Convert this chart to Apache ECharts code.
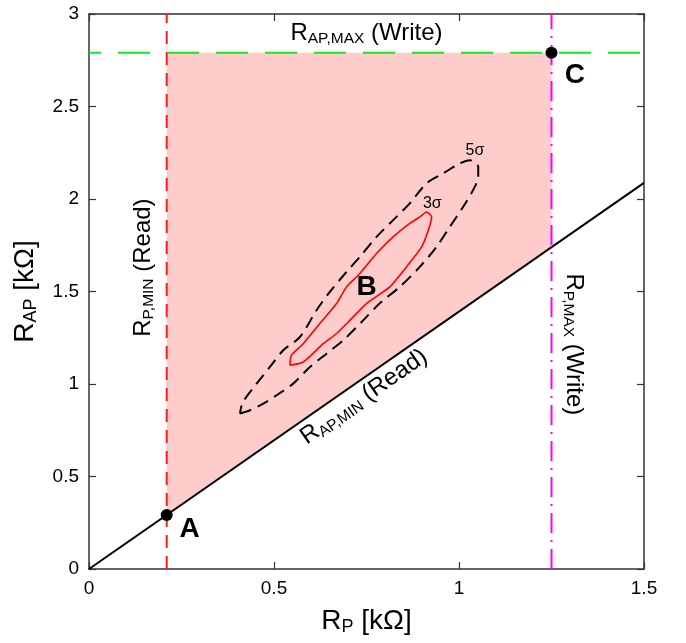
<!DOCTYPE html>
<html>
<head>
<meta charset="utf-8">
<script src="https://cdn.jsdelivr.net/npm/echarts@6/dist/echarts.min.js"></script>
<style>
  html, body { margin: 0; padding: 0; background: #ffffff; }
  #chart { width: 686px; height: 643px; }
</style>
</head>
<body>
<div id="chart"></div>
<script>
// ---- data (kΩ) ----
const xTicks = [0, 0.5, 1, 1.5];
const yTicks = [0, 0.5, 1, 1.5, 2, 2.5, 3];

const rpMinRead = 0.21;     // R_P,MIN (Read)
const rpMaxWrite = 1.25;    // R_P,MAX (Write)
const rapMaxWrite = 2.79;   // R_AP,MAX (Write)
const rapMinRead = [[0, 0], [1.5, 2.087]];   // R_AP,MIN (Read) boundary

// operating window between the four limits
const windowCorners = [[0.21, 0.292], [0.21, 2.79], [1.25, 2.79], [1.25, 1.739]];

const pointA = [0.21, 0.292];
const pointC = [1.25, 2.79];

// 5σ distribution contour
const contour5 = [
  [0.408, 0.840], [0.435, 0.858], [0.471, 0.894], [0.507, 0.939], [0.552, 1.002],
  [0.597, 1.092], [0.642, 1.164], [0.687, 1.236], [0.741, 1.344], [0.786, 1.436],
  [0.840, 1.525], [0.894, 1.633], [0.939, 1.741], [0.975, 1.849], [1.011, 1.957],
  [1.038, 2.048], [1.052, 2.120], [1.052, 2.174], [1.029, 2.210], [1.002, 2.192],
  [0.957, 2.138], [0.912, 2.084], [0.867, 1.976], [0.822, 1.886], [0.777, 1.795],
  [0.732, 1.687], [0.696, 1.606], [0.651, 1.498], [0.615, 1.399], [0.570, 1.254],
  [0.525, 1.182], [0.489, 1.092], [0.453, 1.002], [0.416, 0.902], [0.408, 0.840]
];

// 3σ distribution contour
const contour3 = [
  [0.543, 1.101], [0.579, 1.119], [0.633, 1.218], [0.669, 1.273], [0.705, 1.344],
  [0.750, 1.435], [0.813, 1.525], [0.858, 1.633], [0.899, 1.741], [0.917, 1.831],
  [0.926, 1.903], [0.912, 1.930], [0.894, 1.903], [0.867, 1.868], [0.822, 1.795],
  [0.777, 1.705], [0.732, 1.597], [0.696, 1.525], [0.669, 1.435], [0.624, 1.327],
  [0.579, 1.218], [0.547, 1.155], [0.543, 1.101]
];

// ---- chart ----
const FONT = '"Liberation Sans", Arial, Helvetica, sans-serif';
const AXIS_COLOR = '#333333';

const chart = echarts.init(document.getElementById('chart'), null, { renderer: 'canvas' });

function valueAxis(ticks, position, showLabels) {
  return {
    type: 'value',
    position: position,
    min: ticks[0],
    max: ticks[ticks.length - 1],
    interval: ticks[1] - ticks[0],
    axisLine: { show: true, onZero: false, lineStyle: { color: AXIS_COLOR, width: 1.5 } },
    axisTick: { show: true, inside: true, length: 7, lineStyle: { color: AXIS_COLOR, width: 1.2 } },
    axisLabel: {
      show: showLabels,
      fontSize: 19,
      fontFamily: FONT,
      color: '#000',
      margin: 10,
      formatter: v => String(+v.toFixed(2))
    },
    splitLine: { show: false }
  };
}

const xAxes = [valueAxis(xTicks, 'bottom', true), valueAxis(xTicks, 'top', false)];
const yAxes = [valueAxis(yTicks, 'left', true), valueAxis(yTicks, 'right', false)];

chart.setOption({
  animation: false,
  backgroundColor: '#ffffff',
  grid: { left: 89, right: 42, top: 14, bottom: 74, containLabel: false, outerBoundsMode: 'none' },
  xAxis: xAxes,
  yAxis: yAxes,
  series: [
    {
      type: 'custom',
      name: 'window',
      z: 1,
      silent: true,
      data: windowCorners,
      renderItem: function (params, api) {
        if (params.dataIndex !== 0) return null;
        return {
          type: 'polygon',
          shape: { points: windowCorners.map(p => api.coord(p)) },
          style: { fill: '#ffcccc' }
        };
      }
    },
    {
      type: 'line', name: 'RP,MIN', z: 3, symbol: 'none',
      data: [[rpMinRead, yTicks[0]], [rpMinRead, yTicks[yTicks.length - 1]]],
      lineStyle: { color: '#ff1a1a', width: 2, type: [13, 8] }
    },
    {
      type: 'line', name: 'RAP,MAX', z: 3, symbol: 'none',
      data: [[xTicks[0], rapMaxWrite], [xTicks[xTicks.length - 1], rapMaxWrite]],
      lineStyle: { color: '#19e619', width: 2, type: [32, 17], dashOffset: 20 }
    },
    {
      type: 'line', name: 'RP,MAX', z: 3, symbol: 'none',
      data: [[rpMaxWrite, yTicks[0]], [rpMaxWrite, yTicks[yTicks.length - 1]]],
      lineStyle: { color: '#ff00ff', width: 2, type: [20, 7, 2, 7] }
    },
    {
      type: 'line', name: 'RAP,MIN', z: 4, symbol: 'none',
      data: rapMinRead,
      lineStyle: { color: '#000', width: 2 }
    },
    {
      type: 'line', name: '5σ', z: 5, symbol: 'none', smooth: 0.3,
      data: contour5,
      lineStyle: { color: '#000', width: 2, type: [12, 7] }
    },
    {
      type: 'line', name: '3σ', z: 5, symbol: 'none', smooth: 0.2,
      data: contour3,
      lineStyle: { color: '#ff0000', width: 1.6 }
    },
    {
      type: 'scatter', name: 'points', z: 6, symbol: 'circle', symbolSize: 12,
      data: [pointA, pointC],
      itemStyle: { color: '#000', opacity: 1 }
    }
  ]
});

// ---- annotations ----
const px = p => chart.convertToPixel({ gridIndex: 0 }, p);

function richStyles(main, sub, bold) {
  return {
    m: { fontSize: main, fontFamily: FONT, fontWeight: bold ? 'bold' : 'normal', color: '#000' },
    s: { fontSize: sub, fontFamily: FONT, color: '#000', padding: [Math.round(main * 0.45), 0, 0, 0] }
  };
}

function label(pos, text, opts) {
  const p = px(pos);
  return {
    type: 'text',
    x: p[0], y: p[1],
    rotation: opts.rotation || 0,
    z: 100,
    style: {
      text: text,
      rich: richStyles(opts.main || 24, opts.sub || 15.5, opts.bold),
      align: 'center',
      verticalAlign: 'middle',
      fill: '#000'
    }
  };
}

function plain(pos, text, size, bold) {
  const p = px(pos);
  return {
    type: 'text', x: p[0], y: p[1], z: 100,
    style: {
      text: text,
      font: (bold ? 'bold ' : '') + size + 'px ' + FONT,
      fill: '#000',
      align: 'center',
      verticalAlign: 'middle'
    }
  };
}

const l0 = px(rapMinRead[0]);
const l1 = px(rapMinRead[1]);
const lineAngle = Math.atan2(l0[1] - l1[1], l1[0] - l0[0]);

const gridTop = px([0, 3])[1];
const gridBottom = px([0, 0])[1];
const gridLeft = px([0, 0])[0];
const gridRight = px([1.5, 0])[0];

chart.setOption({
  graphic: [
    label([0.75, 2.897], '{m|R}{s|AP,MAX}{m| (Write)}', {}),
    label([0.1466, 1.629], '{m|R}{s|P,MIN}{m| (Read)}', { rotation: Math.PI / 2 }),
    label([1.311, 1.214], '{m|R}{s|P,MAX}{m| (Write)}', { rotation: -Math.PI / 2 }),
    label([0.743, 0.93], '{m|R}{s|AP,MIN}{m| (Read)}', { rotation: lineAngle }),
    plain([0.272, 0.215], 'A', 28, true),
    plain([0.750, 1.525], 'B', 28, true),
    plain([1.313, 2.670], 'C', 28, true),
    plain([0.928, 1.975], '3σ', 16, false),
    plain([1.043, 2.262], '5σ', 16, false),
    {
      type: 'text', x: (gridLeft + gridRight) / 2, y: gridBottom + 52, z: 100,
      style: {
        text: '{m|R}{s|P}{m| [kΩ]}', rich: richStyles(28, 18, false),
        align: 'center', verticalAlign: 'middle', fill: '#000'
      }
    },
    {
      type: 'text', x: 25, y: (gridTop + gridBottom) / 2, z: 100, rotation: Math.PI / 2,
      style: {
        text: '{m|R}{s|AP}{m| [kΩ]}', rich: richStyles(28, 18, false),
        align: 'center', verticalAlign: 'middle', fill: '#000'
      }
    }
  ]
});
</script>
</body>
</html>
